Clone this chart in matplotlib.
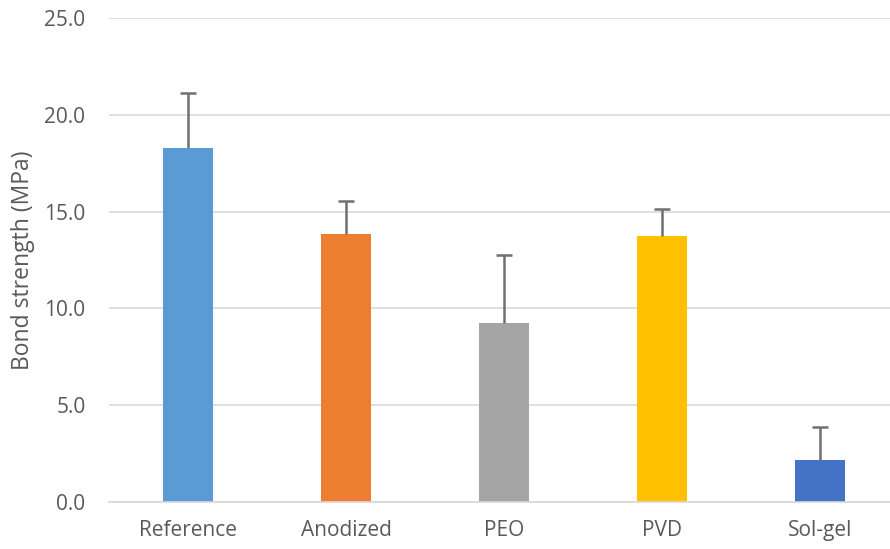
import numpy as np
import matplotlib.pyplot as plt

plt.rcParams['font.family'] = ['Open Sans', 'DejaVu Sans']

coatings = ["Reference", "Anodized", "PEO", "PVD", "Sol-gel"]
strength = [18.3, 13.85, 9.25, 13.72, 2.18]
err_up = [2.82, 1.68, 3.5, 1.4, 1.71]
colors = ["#5B9BD5", "#ED7D31", "#A5A5A5", "#FFC000", "#4472C4"]

fig = plt.figure(figsize=(8.9, 5.49), dpi=100)
ax = fig.add_axes([0.1225, 0.0856, 0.8876, 0.8816])

x = np.arange(len(coatings))
top = np.array(strength) + np.array(err_up)
ax.bar(x, strength, width=0.32, color=colors, zorder=2)
# upper-only error bars with a single cap
ax.vlines(x, strength, top, color="#707070", linewidth=1.8, zorder=3)
ax.plot(x, top, linestyle="none", marker="_", markersize=12,
        markeredgewidth=1.8, color="#707070", zorder=3)

ax.set_xlim(-0.5, len(coatings) - 0.5)
ax.set_ylim(0, 25)
ax.set_yticks(np.arange(0, 26, 5))
ax.set_yticklabels([f"{v:.1f}" for v in np.arange(0, 26, 5)])
ax.set_xticks(x)
ax.set_xticklabels(coatings)

ax.grid(axis="y", color="#D9D9D9", linewidth=1.2, zorder=0)
for s in ["top", "right", "left"]:
    ax.spines[s].set_visible(False)
ax.spines["bottom"].set_color("#D9D9D9")
ax.spines["bottom"].set_linewidth(1.2)
ax.tick_params(axis="both", length=0, labelsize=15, colors="#595959")
ax.tick_params(axis="y", pad=17)
ax.tick_params(axis="x", pad=13)
ax.set_ylabel("Bond strength (MPa)", fontsize=16.5, color="#595959")
ax.yaxis.set_label_coords(-0.094, 0.5)

fig.savefig("out.png", dpi=100)
